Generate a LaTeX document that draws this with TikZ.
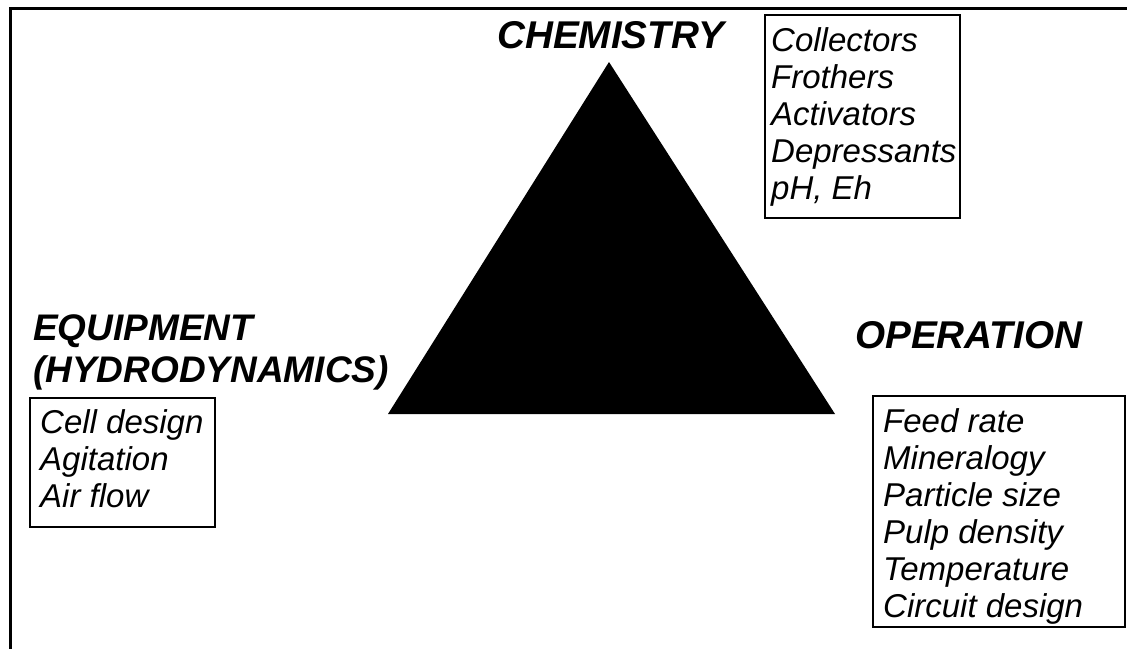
\documentclass[tikz,border=0pt]{standalone}
\usepackage{fontspec}
\setmainfont{Liberation Sans}
\begin{document}
\begin{tikzpicture}[x=1pt,y=-1pt,
  title/.style={anchor=base west,inner sep=0pt,font=\fontsize{37}{42}\selectfont\bfseries\itshape},
  bigtitle/.style={title,font=\fontsize{38.7}{42}\selectfont\bfseries\itshape},
  listtext/.style={anchor=base west,inner sep=0pt,font=\fontsize{33}{37}\selectfont\itshape},
  listbox/.style={draw,line width=1.5pt}]
\useasboundingbox (0,0) rectangle (1127,648);
% outer frame (continues beyond the right and bottom edges)
\draw[line width=3pt] (10,660) -- (10,8) -- (1140,8);
% triangle
\coordinate (apex) at (609,62);
\coordinate (bl) at (388,414);
\coordinate (br) at (835,414);
\fill[black] (apex) -- (bl) -- (br) -- cycle;
% titles
\node[bigtitle] (chem) at (497,48) {CHEMISTRY};
\node[title] (equip1) at (33,340) {EQUIPMENT};
\node[title] (equip2) at (33,382) {(HYDRODYNAMICS)};
\node[bigtitle] (oper) at (855,348) {OPERATION};
% chemistry list
\draw[listbox] (765,15) rectangle (960,218);
\node[listtext] (chemlist) at (771,51) {\begin{tabular}[t]{@{}l@{}}Collectors\\Frothers\\Activators\\Depressants\\pH, Eh\end{tabular}};
% equipment list
\draw[listbox] (30,398) rectangle (215,527);
\node[listtext] (equiplist) at (40,433) {\begin{tabular}[t]{@{}l@{}}Cell design\\Agitation\\Air flow\end{tabular}};
% operation list
\draw[listbox] (873,396) rectangle (1125,627);
\node[listtext] (operlist) at (883,432) {\begin{tabular}[t]{@{}l@{}}Feed rate\\Mineralogy\\Particle size\\Pulp density\\Temperature\\Circuit design\end{tabular}};
\end{tikzpicture}
\end{document}
